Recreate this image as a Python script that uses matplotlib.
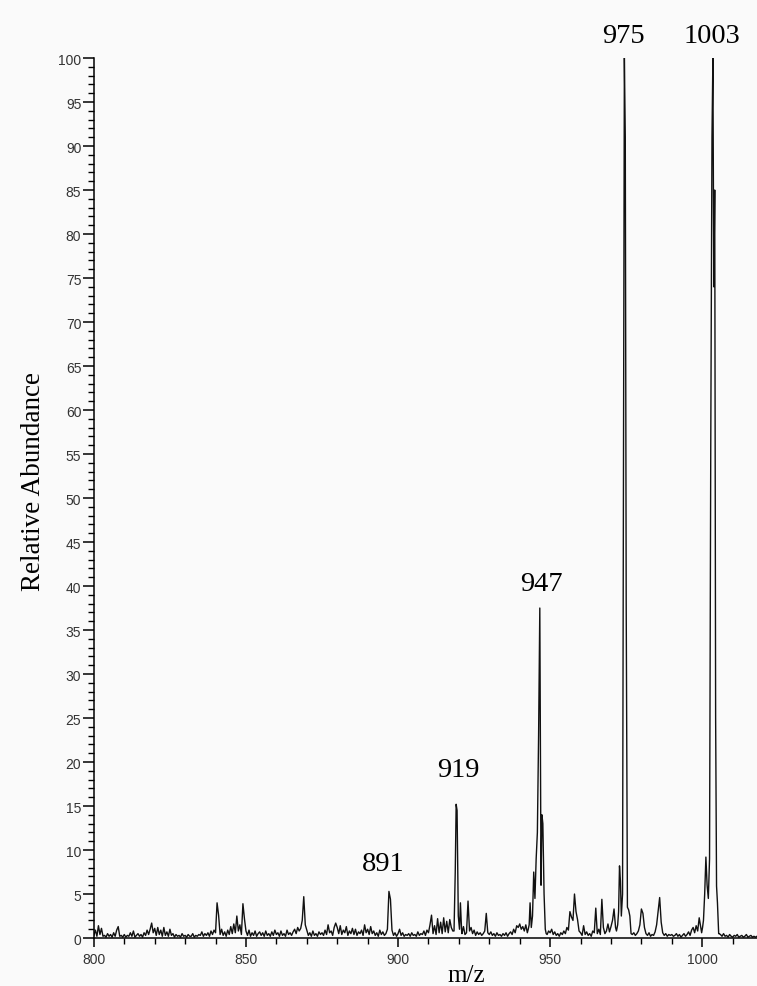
import numpy as np
import matplotlib.pyplot as plt
from matplotlib.ticker import MultipleLocator

# baseline / small peaks, m/z 800..1018 every 0.5
noise = [
    0.3, 0.9, 0.2, 1.4, 0.4, 1.1, 0.2, 0.3, 0.1, 0.5, 0.2, 0.4, 0.1, 0.6, 0.2, 0.9, 1.3, 0.2, 0.3, 0.1,
    0.4, 0.1, 0.3, 0.2, 0.6, 0.2, 0.8, 0.1, 0.3, 0.5, 0.2, 0.4, 0.1, 0.6, 0.3, 0.9, 0.4, 1.0, 1.7, 0.6,
    1.1, 0.3, 1.2, 0.4, 0.9, 0.2, 1.2, 0.3, 0.7, 0.2, 1.0, 0.3, 0.5, 0.1, 0.4, 0.2, 0.3, 0.1, 0.5, 0.2,
    0.3, 0.1, 0.4, 0.2, 0.2, 0.5, 0.1, 0.3, 0.2, 0.4, 0.3, 0.7, 0.2, 0.5, 0.3, 0.6, 0.2, 0.8, 0.4, 0.9,
    0.6, 4.0, 2.6, 0.4, 1.0, 0.3, 0.7, 0.2, 0.9, 0.4, 1.3, 0.5, 1.6, 0.6, 2.5, 0.8, 1.5, 0.4, 3.9, 2.2,
    0.8, 0.3, 0.9, 0.2, 0.6, 0.3, 0.8, 0.2, 0.5, 0.7, 0.3, 0.6, 0.2, 0.8, 0.3, 0.5, 0.2, 0.7, 0.3, 0.9,
    0.4, 0.6, 0.2, 0.8, 0.3, 0.5, 0.2, 0.9, 0.4, 0.6, 0.3, 0.7, 1.0, 0.5, 1.2, 0.8, 1.1, 2.0, 4.7, 1.5,
    0.9, 0.3, 0.6, 0.2, 0.8, 0.3, 0.5, 0.2, 0.7, 0.4, 0.6, 0.3, 0.9, 0.4, 1.5, 0.6, 0.8, 0.3, 1.2, 1.7,
    1.2, 0.5, 1.4, 0.4, 0.9, 0.6, 1.3, 0.3, 0.8, 0.5, 1.1, 0.4, 1.0, 0.3, 0.7, 0.5, 0.9, 0.3, 1.5, 0.6,
    1.0, 0.4, 1.3, 0.5, 0.8, 0.3, 0.6, 0.2, 0.9, 0.4, 0.7, 0.3, 0.5, 1.0, 5.3, 4.4, 0.9, 0.3, 0.6, 0.2,
    0.5, 1.0, 0.3, 0.6, 0.2, 0.4, 0.3, 0.5, 0.2, 0.6, 0.3, 0.4, 0.2, 0.7, 0.3, 0.5, 0.4, 0.8, 0.3, 0.9,
    0.6, 1.5, 2.6, 0.5, 1.4, 0.4, 2.2, 0.6, 1.8, 0.5, 2.3, 0.7, 1.9, 0.6, 2.1, 1.2, 0.8, 0.5, 0.3, 0.3,
    0.8, 0.3, 0.5, 1.3, 0.4, 0.6, 4.2, 0.8, 1.2, 0.5, 0.9, 0.3, 0.7, 0.4, 0.6, 0.3, 0.5, 0.8, 2.8, 0.6,
    0.4, 0.7, 0.3, 0.5, 0.2, 0.6, 0.3, 0.4, 0.2, 0.5, 0.3, 0.6, 0.2, 0.5, 0.7, 0.4, 1.0, 0.6, 1.4, 1.2,
    1.6, 1.0, 1.3, 0.8, 1.5, 0.6, 0.5, 0.5, 0.5, 0.5, 0.5, 0.5, 0.5, 0.5, 0.5, 0.5, 0.5, 0.5, 0.4, 0.8,
    0.6, 1.0, 0.4, 0.7, 0.3, 0.5, 0.2, 0.6, 0.4, 0.8, 0.5, 1.2, 0.9, 3.0, 2.4, 2.0, 5.0, 3.0, 2.1, 0.8,
    0.6, 0.3, 1.4, 0.4, 0.7, 0.3, 0.5, 0.2, 0.8, 0.6, 3.4, 0.5, 1.0, 0.4, 4.4, 1.2, 0.5, 0.8, 1.6, 0.7,
    1.3, 2.0, 3.3, 1.2, 0.5, 0.5, 0.5, 0.5, 0.5, 0.5, 0.5, 0.5, 0.5, 0.5, 0.4, 0.6, 0.3, 0.5, 0.8, 1.5,
    3.3, 2.8, 1.2, 0.5, 0.3, 0.6, 0.2, 0.4, 0.3, 0.7, 1.5, 3.0, 4.6, 1.8, 0.6, 0.3, 0.5, 0.2, 0.4, 0.3,
    0.4, 0.2, 0.3, 0.5, 0.2, 0.4, 0.1, 0.3, 0.5, 0.2, 0.4, 0.7, 0.3, 0.9, 1.2, 0.6, 1.4, 0.8, 2.3, 1.2,
    0.5, 0.5, 0.5, 0.5, 0.5, 0.5, 0.5, 0.5, 0.5, 0.5, 0.5, 0.5, 0.4, 0.2, 0.5, 0.2, 0.3, 0.1, 0.4, 0.2,
    0.1, 0.3, 0.2, 0.4, 0.1, 0.2, 0.3, 0.1, 0.2, 0.4, 0.1, 0.2, 0.3, 0.1, 0.2, 0.1, 0.2,
]
noise_mz = np.linspace(800, 1018, len(noise))

# main peak profiles (m/z, abundance)
p919_mz = [918.4, 918.8, 919.1, 919.4, 919.8, 920.2, 920.5, 920.9]
p919_y = [0.8, 7.5, 15.2, 14.5, 2.5, 1.0, 4.0, 0.8]

p947_mz = [942.8, 943.1, 943.4, 943.8, 944.2, 944.6, 945.0, 945.4, 945.8, 946.2, 946.6, 947.0, 947.3, 947.6, 948.0, 948.4, 948.7]
p947_y = [1.0, 1.5, 4.0, 1.2, 2.5, 7.5, 4.5, 9.0, 12.0, 23.0, 37.5, 6.0, 14.0, 13.0, 5.0, 1.0, 0.5]

p975_mz = [971.8, 972.2, 972.5, 972.8, 973.1, 973.4, 973.8, 974.1, 974.4, 974.7, 975.0, 975.4, 975.8, 976.2, 976.6]
p975_y = [0.8, 1.5, 3.0, 8.2, 6.5, 2.5, 5.0, 52.0, 100.0, 91.0, 38.0, 3.5, 3.2, 2.5, 0.5]

p1003_mz = [999.8, 1000.1, 1000.4, 1000.8, 1001.2, 1001.6, 1002.0, 1002.4, 1002.8, 1003.2, 1003.5, 1003.8, 1004.1, 1004.4, 1004.7, 1005.0, 1005.4]
p1003_y = [0.6, 1.2, 2.0, 5.0, 9.2, 6.0, 4.5, 9.0, 56.0, 91.0, 100.0, 74.0, 85.0, 25.0, 5.9, 4.0, 0.5]

labels = ["891", "919", "947", "975", "1003"]
label_mz = [895.0, 919.8, 947.0, 974.2, 1003.2]
label_y = [7.0, 17.7, 38.9, 101.1, 101.1]

# merge baseline with peak profiles
peaks = [(p919_mz, p919_y), (p947_mz, p947_y), (p975_mz, p975_y), (p1003_mz, p1003_y)]
keep = np.ones(len(noise_mz), dtype=bool)
for pm, py in peaks:
    keep &= ~((noise_mz >= pm[0]) & (noise_mz <= pm[-1]))
mz = np.concatenate([noise_mz[keep]] + [np.array(pm) for pm, py in peaks])
ab = np.concatenate([np.array(noise)[keep]] + [np.array(py) for pm, py in peaks])
order = np.argsort(mz)
mz, ab = mz[order], ab[order]

fig = plt.figure(figsize=(7.57, 9.87), dpi=100, facecolor="#fafafa")
ax = fig.add_axes([0.124, 0.0486, 0.876, 0.8916])
ax.set_facecolor("#fafafa")

ax.plot(mz, ab, color="#111111", lw=1.0)

ax.set_xlim(800, 1018)
ax.set_ylim(0, 100)
ax.spines["top"].set_visible(False)
ax.spines["right"].set_visible(False)
ax.spines["left"].set_linewidth(1.1)
ax.spines["bottom"].set_linewidth(1.1)

ax.xaxis.set_major_locator(MultipleLocator(50))
ax.xaxis.set_minor_locator(MultipleLocator(10))
ax.yaxis.set_major_locator(MultipleLocator(5))
ax.yaxis.set_minor_locator(MultipleLocator(1))
ax.tick_params(axis="y", which="major", length=8, width=1.1, pad=1)
ax.tick_params(axis="y", which="minor", length=4, width=1.0)
ax.tick_params(axis="x", which="major", length=6.5, width=1.1, pad=3.5)
ax.tick_params(axis="x", which="minor", length=4, width=1.0)
for t in ax.get_xticklabels() + ax.get_yticklabels():
    t.set_fontfamily("Liberation Sans")
    t.set_fontsize(10)
    t.set_color("#333333")

ax.set_ylabel("Relative Abundance", family="Liberation Serif", fontsize=19.5)
ax.yaxis.set_label_coords(-0.072, 0.52)
ax.set_xlabel("m/z", family="Liberation Serif", fontsize=18)
ax.xaxis.set_label_coords(0.561, -0.03)

for lab, x, y in zip(labels, label_mz, label_y):
    ax.text(x, y, lab, ha="center", va="bottom", family="Liberation Serif",
            fontsize=20.5, clip_on=False)

fig.savefig("out.png", dpi=100, facecolor=fig.get_facecolor())
